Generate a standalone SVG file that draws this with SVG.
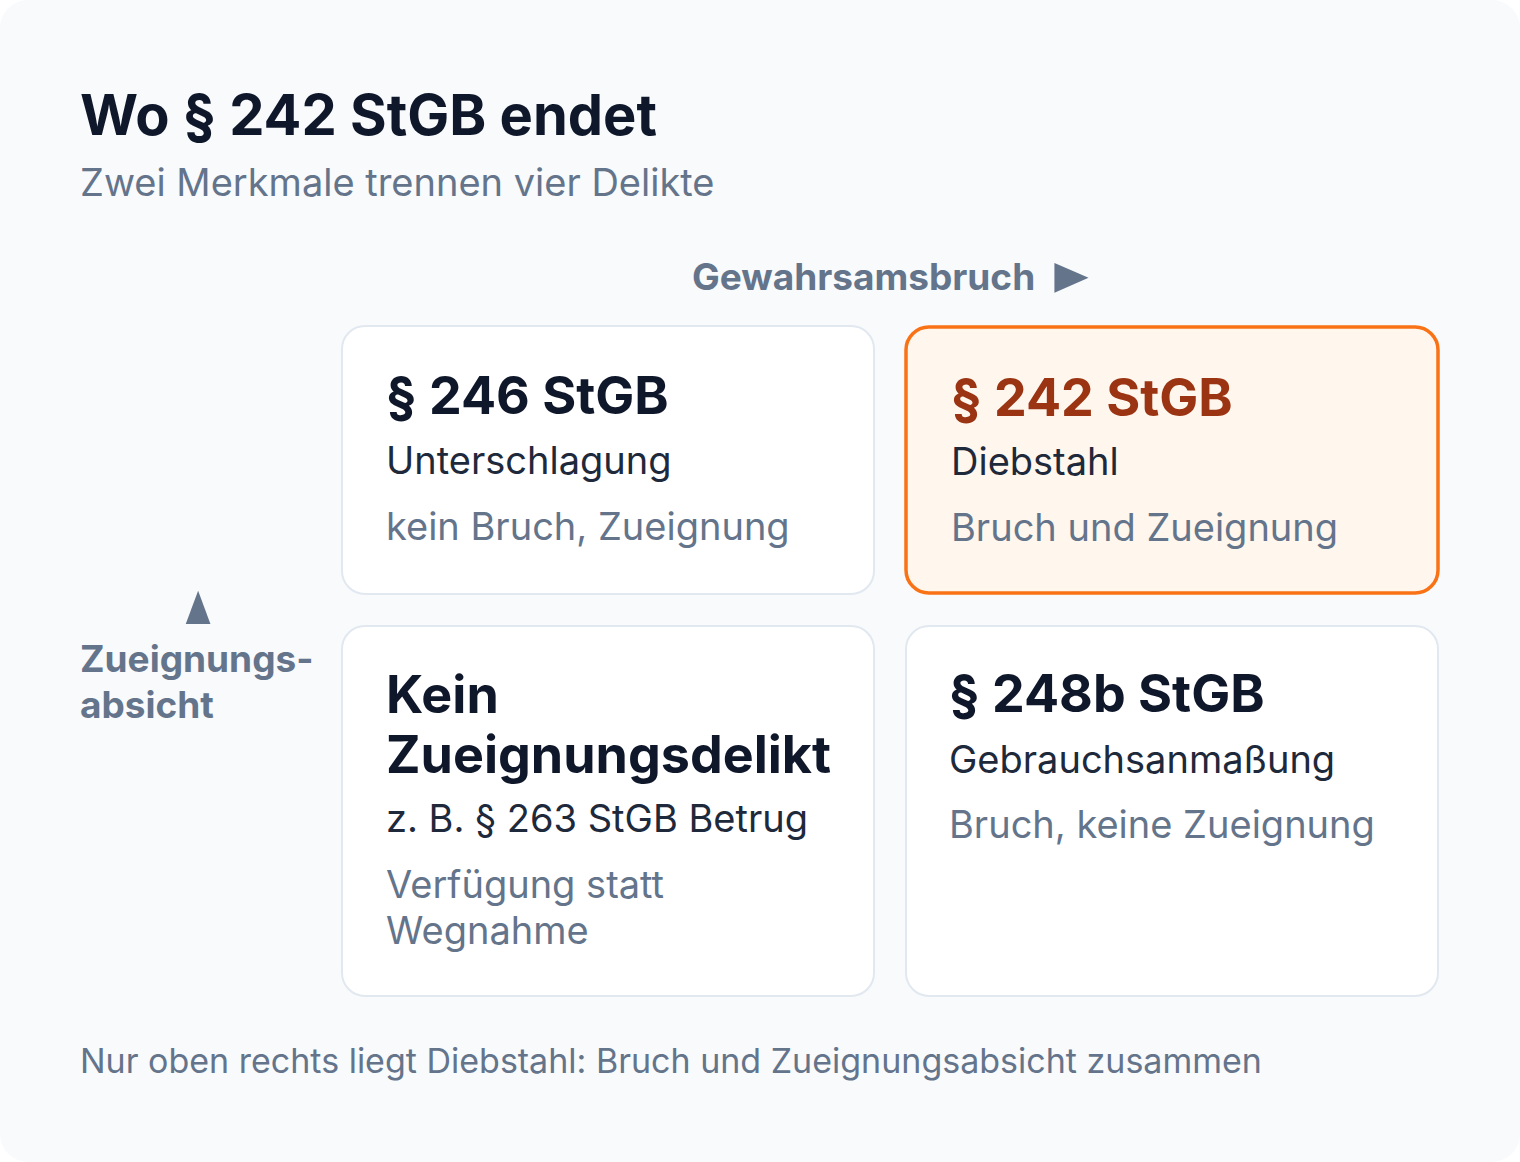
<svg xmlns="http://www.w3.org/2000/svg" width="1520" height="1162" viewBox="0 0 1520 1162">
<style>
text{font-family:Inter,"Noto Sans","DejaVu Sans",sans-serif}
.title{font-size:56px;font-weight:700;fill:#0f172a}
.subtitle{font-size:38px;fill:#64748b}
.axis{font-size:37px;font-weight:700;fill:#64748b}
.sym{font-family:"Liberation Sans","DejaVu Sans",sans-serif;font-weight:400;fill:#64748b;font-size:57px}
.card{fill:#ffffff;stroke:#e2e8f0;stroke-width:2}
.hl{fill:#fff7ed;stroke:#f97316;stroke-width:3.5}
.head{font-size:52px;font-weight:700;fill:#0f172a}
.headhl{font-size:52px;font-weight:700;fill:#9a3412}
.name{font-size:38px;fill:#1e293b}
.desc{font-size:38px;fill:#64748b}
.foot{font-size:34px;fill:#64748b}
</style>
<rect x="0" y="0" width="1520" height="1162" rx="28" fill="#f8fafc"/>
<text class="title" x="80" y="135">Wo § 242 StGB endet</text>
<text class="subtitle" x="80" y="196">Zwei Merkmale trennen vier Delikte</text>
<g id="axis-x">
<text class="axis" x="692" y="290">Gewahrsamsbruch</text>
<text class="sym" transform="translate(1071.5,292) scale(1,0.87)" text-anchor="middle">►</text>
</g>
<g id="axis-y">
<text class="sym" transform="translate(198,624) scale(0.74,1)" text-anchor="middle">▲</text>
<text class="axis" x="80" y="672">Zueignungs-</text>
<text class="axis" x="80" y="718">absicht</text>
</g>
<g id="connectors"></g>
<g id="card-246">
<rect class="card" x="342" y="326" width="532" height="268" rx="23"/>
<text class="head" x="386" y="414">§ 246 StGB</text>
<text class="name" x="386" y="474">Unterschlagung</text>
<text class="desc" x="386" y="540">kein Bruch, Zueignung</text>
</g>
<g id="card-242">
<rect class="hl" x="906" y="327" width="532" height="266" rx="23"/>
<text class="headhl" x="951" y="416">§ 242 StGB</text>
<text class="name" x="951" y="475">Diebstahl</text>
<text class="desc" x="951" y="541">Bruch und Zueignung</text>
</g>
<g id="card-none">
<rect class="card" x="342" y="626" width="532" height="370" rx="23"/>
<text class="head" x="386" y="713">Kein</text>
<text class="head" x="386" y="773">Zueignungsdelikt</text>
<text class="name" x="386" y="832">z. B. § 263 StGB Betrug</text>
<text class="desc" x="386" y="898">Verfügung statt</text>
<text class="desc" x="386" y="944">Wegnahme</text>
</g>
<g id="card-248b">
<rect class="card" x="906" y="626" width="532" height="370" rx="23"/>
<text class="head" x="949" y="712">§ 248b StGB</text>
<text class="name" x="949" y="773">Gebrauchsanmaßung</text>
<text class="desc" x="949" y="838">Bruch, keine Zueignung</text>
</g>
<text class="foot" x="80" y="1073">Nur oben rechts liegt Diebstahl: Bruch und Zueignungsabsicht zusammen</text>
</svg>
